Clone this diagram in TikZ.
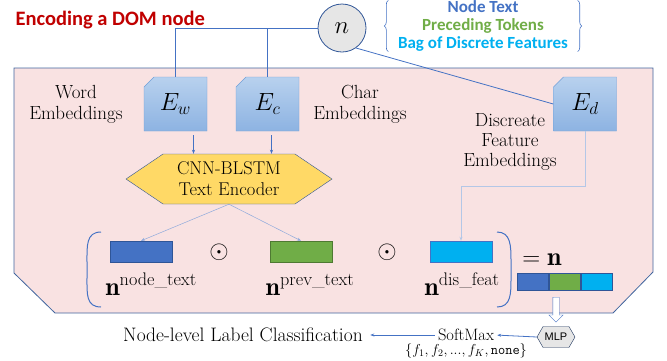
\documentclass[tikz,border=0pt]{standalone}
\usepackage{amsmath}
\usepackage{fontspec}
\newfontfamily\calibri{Carlito}
\newfontfamily\arialfont{Liberation Sans}
\usetikzlibrary{positioning,arrows.meta,shapes.misc,shapes.symbols,shapes.arrows,decorations.pathreplacing}
\definecolor{dkblue}{HTML}{2F5597}
\definecolor{ablue}{HTML}{4472C4}
\definecolor{agreen}{HTML}{70AD47}
\definecolor{acyan}{HTML}{00B0F0}
\definecolor{ared}{HTML}{C00000}
\definecolor{pinkbg}{HTML}{F9E2E2}
\definecolor{bgline}{HTML}{41659E}
\definecolor{embtop}{HTML}{B8D1EE}
\definecolor{embbot}{HTML}{8DB3E2}
\definecolor{embline}{HTML}{6F9FD8}
\definecolor{yell}{HTML}{FFD966}
\definecolor{lgray}{HTML}{E6E6E6}
\definecolor{thinline}{HTML}{8FAADC}
\definecolor{paleline}{HTML}{B4C7E7}
\begin{document}
\begin{tikzpicture}[x=1pt, y=-1pt, node distance={160pt}, >={Stealth[length=4pt,width=3pt]},
  emb/.style = {chamfered rectangle, chamfered rectangle corners=north west, chamfered rectangle sep=5pt, draw=embline, top color=embtop, bottom color=embbot, minimum width=63pt, minimum height=54pt, inner sep=0pt, font=\fontsize{26}{30}\selectfont},
  hexa/.style = {signal, signal to=west and east, draw=dkblue, inner sep=0pt},
  vec/.style = {rectangle, minimum width=62pt, minimum height=21pt, inner sep=0pt},
  seg/.style = {rectangle, draw=dkblue, minimum width=31.3pt, minimum height=17pt, inner sep=0pt},
  lbl/.style = {align=center, font=\fontsize{19}{21}\selectfont},
  vlbl/.style = {anchor=base, font=\fontsize{26}{30}\selectfont},
  link/.style = {draw=ablue, line width=0.8pt},
  arr/.style = {->, draw=ablue, line width=0.8pt, ablue},
  paren/.style = {draw=ablue, line width=1pt}]
\useasboundingbox (0,0) rectangle (667,360);
% background of the encoder
\filldraw[draw=bgline, fill=pinkbg, line width=0.8pt] (14,68) -- (653,68) -- (653,272) -- (613,313) -- (55,313) -- (14,273) -- cycle;

\node[anchor=base west, text=ared, font=\calibri\bfseries\fontsize{20.5}{24}\selectfont] (title) at (12,25) {Encoding a DOM node};
\node[circle, draw=dkblue, fill=lgray, line width=0.8pt, minimum size=48pt, inner sep=0pt, font=\fontsize{24}{28}\selectfont] (n) at (342,28) {$n$};
\node[align=center, minimum width=189pt, minimum height=50pt, inner sep=0pt, font=\calibri\bfseries\fontsize{17}{18}\selectfont] (feat) at (483,26)
  {\textcolor{ablue}{Node Text}\\ \textcolor{agreen}{Preceding Tokens}\\ \textcolor{acyan}{Bag of Discrete Features}};

\node[emb] (ew) at (175.5,104) {$E_w$};
\node[emb, right of = ew, node distance=92pt] (ec) {$E_c$};
\node[emb] (ed) at (585,104) {$E_d$};
\node[lbl] (wlbl) at (76,104.5) {Word\\Embeddings};
\node[lbl] (clbl) at (360,104.5) {Char\\Embeddings};
\node[lbl, font=\fontsize{19}{20}\selectfont] (dlbl) at (510,142) {Discreate\\Feature\\Embeddings};

\node[hexa, fill=yell, signal pointer angle=68, minimum width=206pt, minimum height=50pt, align=center, font=\fontsize{18.5}{21}\selectfont] (cnn) at (229,179) {CNN-BLSTM\\Text Encoder};

\node[vec, fill=ablue, draw=dkblue] (blue) at (141,251.5) {};
\node[vec, fill=agreen, draw=agreen!70!black, right of = blue] (green) {};
\node[vec, fill=acyan, draw=ablue, right of = green] (cyan) {};
\node[font=\fontsize{23}{26}\selectfont] (dot1) at (219,252) {$\odot$};
\node[font=\fontsize{23}{26}\selectfont] (dot2) at (387,252) {$\odot$};
\node[vlbl] (lnode) at (151,295) {$\mathbf{n}^{\text{node\_text}}$};
\node[vlbl] (lprev) at (310,295) {$\mathbf{n}^{\text{prev\_text}}$};
\node[vlbl] (ldis) at (462,295) {$\mathbf{n}^{\text{dis\_feat}}$};
\node[font=\fontsize{26}{30}\selectfont] (eqn) at (542,260) {$=\mathbf{n}$};
\node[seg, fill=ablue] (barb) at (533,281.5) {};
\node[seg, fill=agreen, right=0pt of barb] (barg) {};
\node[seg, fill=acyan, right=0pt of barg] (barc) {};

\node[single arrow, draw=ablue, fill=white, rotate=-90, anchor=tail, minimum height=25pt, minimum width=14pt, inner sep=3pt, single arrow head extend=4pt] (hol) at (556,297) {};
\node[hexa, draw=dkblue!60!black, fill=lgray, signal pointer angle=120, minimum width=38pt, minimum height=21pt, font=\arialfont\fontsize{11}{13}\selectfont] (mlp) at (556,337) {MLP};
\node[inner sep=1pt, font=\fontsize{16.5}{18}\selectfont] (soft) at (466,335) {SoftMax};
\node[inner sep=0.5pt, font=\fontsize{14}{16}\selectfont] (set) at (466,350.5) {$\{f_1, f_2, ..., f_K, \mathtt{none}\}$};
\node[font=\fontsize{19.5}{21}\selectfont] (cls) at (243,335) {Node-level Label Classification};

% connectors
\draw[link] (n.west) -| (ew.north);
\draw[link] (n.west) -| (ec.north);
\draw[link] (n.-55) -- (ed.west);
\coordinate[xshift=18pt] (ewout) at (ew.south);
\coordinate[xshift=4pt] (ecout) at (ec.south);
\draw[arr] (ewout) ++(0,4) -- (ewout |- cnn.north);
\draw[arr] (ecout) ++(0,4) -- (ecout |- cnn.north);
\draw[->, draw=thinline, thinline, line width=0.5pt] (cnn.south) -- (blue.north);
\draw[->, draw=thinline, thinline, line width=0.5pt] (cnn.south) -- (green.north);
\draw[->, draw=paleline, paleline, line width=1pt] (ed.south) -- ++(0,55) -| (cyan.north);
\draw[arr, shorten >=2pt] (mlp.west) -- (soft.east);
\draw[arr, shorten <=2pt, shorten >=4pt] (soft.west) -- (cls.east);
\draw[decorate, decoration={brace, amplitude=4pt}, draw=ablue, line width=0.6pt] (feat.south west) -- (feat.north west);
\draw[decorate, decoration={brace, amplitude=4pt}, draw=ablue, line width=0.6pt] (feat.north east) -- (feat.south east);
\draw[paren] (101,232) .. controls (86,232) and (87,246) .. (87,262) -- (87,278) .. controls (87,294) and (86,307) .. (101,307);
\draw[paren] (497,232) .. controls (511,232) and (511,246) .. (511,262) -- (511,278) .. controls (511,294) and (511,307) .. (497,307);
\end{tikzpicture}
\end{document}
